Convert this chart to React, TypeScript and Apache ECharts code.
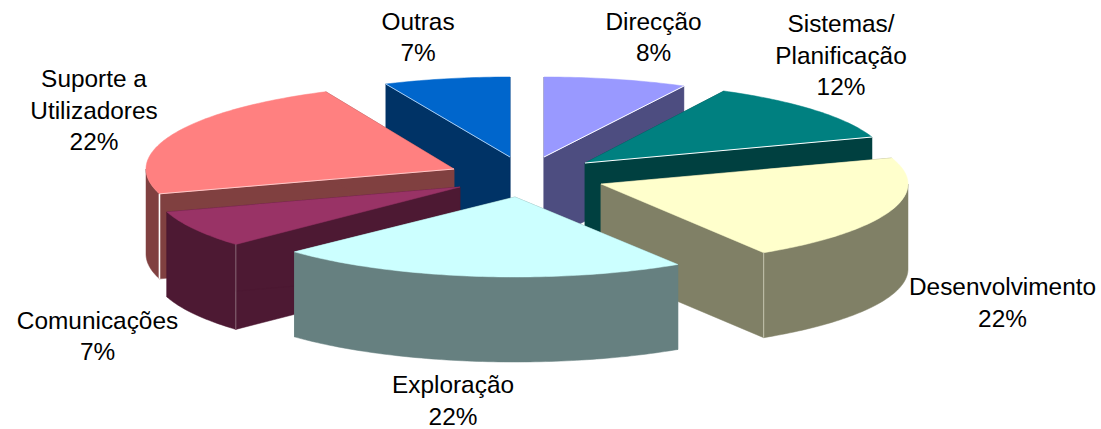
import React, { useEffect, useRef } from "react";
import * as echarts from "echarts";

// Data, clockwise from twelve o'clock
const categories = ["Direcção", "Sistemas/\nPlanificação", "Desenvolvimento", "Exploração", "Comunicações", "Suporte a\nUtilizadores", "Outras"];
const shares = [8, 12, 22, 22, 7, 22, 7];

// Appearance
const topColors = ["#9999FF", "#008080", "#FFFFCC", "#CCFFFF", "#993366", "#FF8080", "#0066CC"];
const wallColors = ["#4D4D80", "#004040", "#808066", "#668080", "#4D1933", "#804040", "#003366"];

// Layout of the exploded, tilted pie (pixels and degrees)
const apexX = [544, 585, 601, 515, 460, 454, 510];
const apexY = [157, 163, 184, 197, 187, 169, 157];
const radiusX = [303, 303, 307, 303, 307, 308, 303];
const radiusY = [80, 81, 81, 80, 84, 85, 80];
const startTrim = [0, -1.5, -0.7, -3.7, -3.5, -2.6, 1];
const endTrim = [-1.3, -0.7, -3.2, -3.7, -2.9, 0.6, 0];
const depth = 85;
const drawOrder = [6, 0, 1, 5, 4, 2, 3];
const labelX = [653.5, 841, 1002.5, 453, 97.5, 94, 418];
const labelY = [37, 55, 302.5, 400.5, 336, 110, 37];

const total = shares.reduce((a, b) => a + b, 0);
const startAngles = shares.map((_, i) => (shares.slice(0, i).reduce((a, b) => a + b, 0) / total) * 360);

function renderSlice(_params: any, api: any) {
  const i = api.value(0) as number;
  const value = api.value(1) as number;
  const cx = apexX[i];
  const cy = apexY[i];
  const a1 = startAngles[i] + startTrim[i];
  const a2 = startAngles[i] + (value / total) * 360 + endTrim[i];
  const at = (deg: number, dy = 0): number[] => {
    const r = (deg * Math.PI) / 180;
    return [cx + radiusX[i] * Math.sin(r), cy - radiusY[i] * Math.cos(r) + dy];
  };
  const arc: number[][] = [];
  const steps = Math.max(8, Math.ceil(a2 - a1));
  for (let k = 0; k <= steps; k++) arc.push(at(a1 + ((a2 - a1) * k) / steps));

  const children: any[] = [];
  const wallStyle = { fill: wallColors[i], stroke: wallColors[i], lineWidth: 0.5 };
  const poly = (points: number[][], style: any) => ({ type: "polygon", shape: { points }, style });
  const down = (p: number[]) => [p[0], p[1] + depth];

  // radial walls
  [arc[0], arc[arc.length - 1]].forEach((p) => {
    children.push(poly([[cx, cy], p, down(p), [cx, cy + depth]], wallStyle));
  });
  // outer wall, only where it faces the viewer
  const front: number[][] = [];
  const fa1 = Math.max(a1, 90);
  const fa2 = Math.min(a2, 270);
  if (fa2 > fa1) {
    const n = Math.ceil(fa2 - fa1);
    for (let k = 0; k <= n; k++) front.push(at(fa1 + ((fa2 - fa1) * k) / n));
    children.push(poly([...front, ...front.slice().reverse().map(down)], wallStyle));
  }
  // top
  children.push(poly([[cx, cy], ...arc], { fill: topColors[i], stroke: topColors[i], lineWidth: 0.5 }));

  // thin light edges
  const line = (p: number[], q: number[], stroke: string, lineWidth = 1) => ({
    type: "line",
    shape: { x1: p[0], y1: p[1], x2: q[0], y2: q[1] },
    style: { stroke, lineWidth },
  });
  const first = arc[0];
  const last = arc[arc.length - 1];
  if (i === 0 || i === 1) children.push(line([cx, cy], last, "#FFFFFF", 1));
  if (i === 6) children.push(line(first, [cx, cy], "#A8CCF0", 1));
  if (i === 5) children.push(line(first, down(first), "#FFFFFF", 1.6));
  if (i === 5) children.push(line(first, [cx, cy], "#FFC8C8", 1));
  if (i === 2) children.push(line(last, down(last), "#C4C4B0", 1));
  if (i === 4) children.push(line(first, down(first), "#8A6A78", 1));

  return { type: "group", children };
}

export default function App() {
  const ref = useRef<HTMLDivElement>(null);
  useEffect(() => {
    document.body.style.margin = "0";
    const chart = echarts.init(ref.current!, null, { renderer: "svg" });
    chart.setOption({
      animation: false,
      backgroundColor: "#FFFFFF",
      series: [
        {
          type: "custom",
          coordinateSystem: "none",
          renderItem: renderSlice,
          silent: true,
          data: drawOrder.map((i) => [i, shares[i]]),
        },
      ],
      graphic: categories.map((name, i) => ({
        type: "text",
        x: labelX[i],
        y: labelY[i],
        z: 10,
        style: {
          text: `${name}\n${shares[i]}%`,
          font: '24.4px "Liberation Sans", Arial, sans-serif',
          fill: "#000000",
          align: "center",
          verticalAlign: "middle",
          lineHeight: 31.5,
        },
      })),
    });
    return () => chart.dispose();
  }, []);
  return <div ref={ref} style={{ width: 1101, height: 429 }} />;
}
